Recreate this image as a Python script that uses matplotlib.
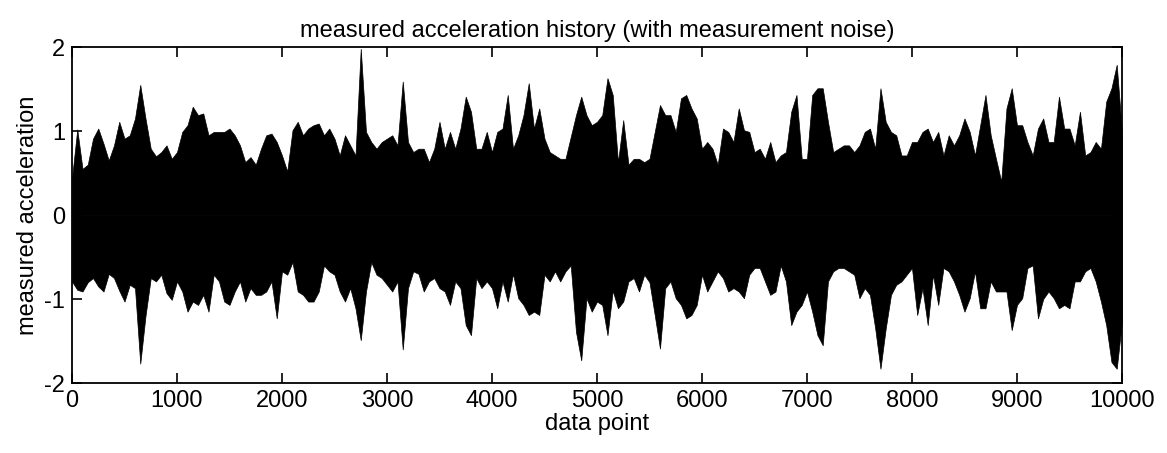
import matplotlib

matplotlib.use("Agg")
import matplotlib.pyplot as plt
import numpy as np

# sample index (every 50 points) and the envelope of the measured signal
data_point = np.arange(0, 10001, 50)

upper = [
    0.44, 1.02, 0.55, 0.60, 0.91, 1.03, 0.85, 0.65, 0.83, 1.11, 0.91, 0.95, 1.15, 1.55, 1.15,
    0.79, 0.70, 0.75, 0.83, 0.67, 0.75, 0.99, 1.07, 1.29, 1.19, 1.21, 0.95, 0.99, 0.99, 0.99,
    1.03, 0.95, 0.83, 0.63, 0.69, 0.60, 0.79, 0.95, 0.97, 0.87, 0.71, 0.52, 1.01, 1.11, 0.95,
    1.03, 1.07, 1.09, 0.95, 1.03, 0.91, 0.71, 0.95, 0.83, 0.71, 1.98, 0.99, 0.87, 0.79, 0.87,
    0.91, 0.95, 0.83, 1.59, 0.87, 0.75, 0.79, 0.79, 0.63, 0.79, 1.11, 0.79, 0.99, 0.79, 1.03,
    1.41, 1.23, 0.79, 0.79, 0.99, 0.75, 0.99, 1.03, 1.43, 0.79, 0.95, 1.19, 1.57, 1.03, 1.27,
    0.91, 0.75, 0.71, 0.67, 0.67, 0.93, 1.19, 1.41, 1.19, 1.07, 1.11, 1.19, 1.63, 1.43, 0.63,
    1.13, 0.60, 0.67, 0.67, 0.63, 0.67, 0.99, 1.31, 1.19, 1.19, 0.99, 1.39, 1.43, 1.27, 1.15,
    0.79, 0.87, 0.79, 0.60, 1.03, 0.99, 0.87, 1.27, 1.01, 0.99, 0.75, 0.79, 0.67, 0.87, 0.63,
    0.71, 0.75, 1.23, 1.43, 0.67, 0.67, 1.43, 1.51, 1.51, 1.11, 0.75, 0.79, 0.83, 0.83, 0.75,
    0.83, 0.99, 1.03, 0.79, 1.51, 1.11, 0.99, 0.95, 0.71, 0.71, 0.87, 0.87, 0.99, 1.03, 0.87,
    0.99, 0.71, 0.95, 0.83, 0.95, 1.15, 0.99, 0.71, 1.07, 1.43, 0.95, 0.67, 0.40, 1.27, 1.51,
    1.07, 1.07, 0.87, 0.71, 1.03, 1.15, 0.87, 0.87, 1.41, 1.03, 1.03, 0.83, 1.23, 0.71, 0.75,
    0.87, 0.79, 1.35, 1.51, 1.79, 0.99,
]

lower = [
    -0.79, -0.89, -0.91, -0.80, -0.75, -0.85, -0.91, -0.70, -0.75, -0.90, -1.03, -0.83, -0.87, -1.77, -1.20,
    -0.75, -0.79, -0.71, -0.93, -1.01, -0.79, -0.91, -1.15, -1.03, -1.07, -0.95, -1.15, -0.71, -0.79, -1.03,
    -1.07, -0.91, -0.79, -1.03, -0.87, -0.95, -0.95, -0.91, -0.79, -1.23, -0.67, -0.71, -0.56, -0.91, -0.95,
    -1.03, -1.03, -0.91, -0.60, -0.67, -0.71, -0.91, -1.03, -0.87, -1.11, -1.49, -0.91, -0.56, -0.71, -0.75,
    -0.83, -0.91, -0.79, -1.60, -0.87, -0.67, -0.70, -0.91, -0.79, -0.75, -0.87, -0.91, -1.07, -0.79, -0.87,
    -1.31, -1.43, -0.75, -0.87, -0.79, -0.87, -1.11, -0.79, -1.03, -0.70, -0.99, -1.07, -1.19, -1.15, -1.19,
    -0.71, -0.79, -0.67, -0.79, -0.67, -0.60, -1.39, -1.73, -0.99, -1.15, -1.03, -1.07, -1.43, -0.90, -1.11,
    -1.03, -0.79, -0.75, -0.91, -0.71, -0.80, -1.19, -1.59, -0.87, -0.79, -0.99, -1.07, -1.23, -1.19, -1.07,
    -0.71, -0.91, -0.79, -0.67, -0.75, -0.91, -0.87, -0.91, -0.99, -0.71, -0.63, -0.63, -0.79, -0.95, -0.91,
    -0.60, -0.79, -1.31, -1.15, -1.07, -0.91, -1.15, -1.43, -1.55, -0.79, -0.67, -0.63, -0.63, -0.67, -0.71,
    -0.99, -0.87, -0.95, -1.35, -1.83, -1.35, -0.95, -0.83, -0.79, -0.71, -0.63, -1.19, -0.87, -1.31, -0.71,
    -1.07, -0.63, -0.67, -0.79, -0.95, -1.15, -0.99, -0.67, -1.11, -1.11, -0.79, -0.91, -0.91, -0.91, -1.37,
    -1.07, -0.99, -0.63, -0.60, -1.23, -1.00, -0.91, -0.99, -1.11, -1.07, -1.11, -0.79, -0.79, -0.67, -0.63,
    -0.79, -1.03, -1.31, -1.75, -1.83, -1.27,
]

x_ticks = np.arange(0, 10001, 1000)
y_ticks = [-2, -1, 0, 1, 2]

plt.rcParams["font.family"] = ["Liberation Sans", "DejaVu Sans"]
plt.rcParams["axes.unicode_minus"] = False

fig = plt.figure(figsize=(11.67, 4.53), dpi=100)
ax = fig.add_axes([0.0617, 0.1545, 0.8997, 0.7415])

ax.fill_between(data_point, 0, upper, color="black", linewidth=0.5, edgecolor="black")
ax.fill_between(data_point, lower, 0, color="black", linewidth=0.5, edgecolor="black")

ax.set_xlim(0, 10000)
ax.set_ylim(-2, 2)
ax.set_xticks(x_ticks)
ax.set_yticks(y_ticks)
ax.tick_params(direction="in", length=7, width=1.2, top=True, right=True, labelsize=17, pad=5)
for spine in ax.spines.values():
    spine.set_linewidth(1.3)

ax.set_title("measured acceleration history (with measurement noise)", fontsize=17, pad=7)
ax.set_xlabel("data point", fontsize=17, labelpad=1)
ax.set_ylabel("measured acceleration", fontsize=17, labelpad=4)

fig.savefig("out.png", dpi=100)
